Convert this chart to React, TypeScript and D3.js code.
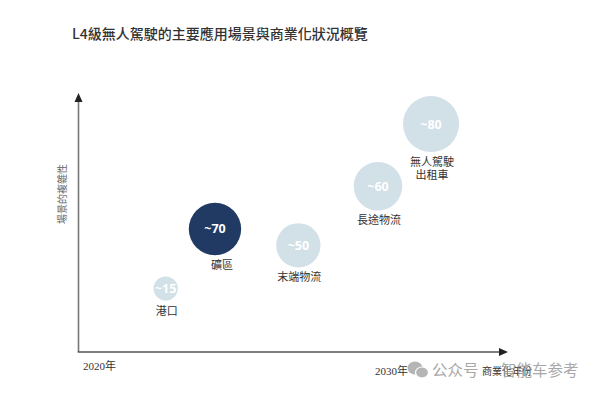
import React from "react";
import * as d3 from "d3";

const scenarios = ["港口", "礦區", "末端物流", "長途物流", "無人駕駛\n出租車"];
const commercialYear = [2022.3, 2023.6, 2025.8, 2027.9, 2029.3];
const complexity = [2.45, 4.75, 4.12, 6.4, 8.8];
const scaleValues = [15, 70, 50, 60, 80];
const highlighted = [false, true, false, false, false];
const xTickLabels = ["2020年", "2030年"];

const W = 600;
const H = 393;
const origin = { x: 78.5, y: 352 };
const xEnd = 508;
const yTop = 93;

export default function App() {
  const x = d3.scaleLinear().domain([2020, 2031.33]).range([origin.x, xEnd]);
  const y = d3.scaleLinear().domain([0, 10]).range([origin.y, yTop]);
  const r = d3.scaleSqrt().domain([0, 80]).range([0, 28]);

  const serif = "'Liberation Serif', 'Noto Sans CJK TC', serif";
  const sans = "'Open Sans', 'Noto Sans', sans-serif";

  return (
    <svg
      width={W}
      height={H}
      style={{ position: "absolute", left: 0, top: 0, background: "#fff" }}
    >
      <text
        x={72}
        y={39}
        fontFamily="'Noto Sans CJK TC', sans-serif"
        fontSize={14}
        fontWeight={500}
        fill="#333"
      >
        L4級無人駕駛的主要應用場景與商業化狀況概覽
      </text>

      {/* axes */}
      <line x1={origin.x} y1={origin.y} x2={origin.x} y2={yTop + 8} stroke="#777" strokeWidth={1.6} />
      <path d={`M${origin.x - 4},${yTop + 9} L${origin.x},${yTop} L${origin.x + 4},${yTop + 9} Z`} fill="#222" />
      <line x1={origin.x - 0.8} y1={origin.y} x2={xEnd - 8} y2={origin.y} stroke="#555" strokeWidth={1.6} />
      <path d={`M${xEnd - 9},${origin.y - 4} L${xEnd},${origin.y} L${xEnd - 9},${origin.y + 4} Z`} fill="#222" />

      <text
        transform={`translate(66,194) rotate(-90)`}
        textAnchor="middle"
        fontFamily="'Noto Sans CJK TC', sans-serif"
        fontSize={10}
        fill="#666"
      >
        場景的複雜性
      </text>

      <text x={x(2020) + 4.5} y={369.5} fontFamily={serif} fontSize={11} fill="#333">
        {xTickLabels[0]}
      </text>
      <text x={375} y={375} fontFamily={serif} fontSize={11} fill="#333">
        {xTickLabels[1]}
      </text>
      <text x={482} y={375} fontFamily={serif} fontSize={10} fill="#333">
        商業化年份
      </text>

      {/* bubbles */}
      {scenarios.map((name, i) => {
        const cx = x(commercialYear[i]);
        const cy = y(complexity[i]);
        const rr = r(scaleValues[i]);
        const lines = name.split("\n");
        return (
          <g key={name}>
            <circle cx={cx} cy={cy} r={rr} fill={highlighted[i] ? "#213a63" : "#d2e0e8"} />
            <text
              x={cx}
              y={cy}
              dy="0.36em"
              textAnchor="middle"
              fontFamily={sans}
              fontWeight={700}
              fontSize={12.5}
              fill="#fff"
            >
              {"~" + scaleValues[i]}
            </text>
            {lines.map((ln, j) => (
              <text
                key={j}
                x={cx + (highlighted[i] ? 7 : 1)}
                y={cy + rr + 14 + j * 13}
                textAnchor="middle"
                fontFamily={serif}
                fontSize={11}
                fill="#333"
              >
                {ln}
              </text>
            ))}
          </g>
        );
      })}

      {/* watermark */}
      <g opacity={0.85}>
        <ellipse cx={415} cy={368} rx={7.5} ry={6.5} fill="#a9a9a9" />
        <ellipse cx={422} cy={372.5} rx={6.5} ry={5.5} fill="#a9a9a9" stroke="#fff" strokeWidth={1.2} />
        <text
          x={432}
          y={376}
          fontFamily="'Noto Sans CJK SC', sans-serif"
          fontSize={15.5}
          fill="#9a9a9a"
        >
          公众号 · 智能车参考
        </text>
      </g>
    </svg>
  );
}
